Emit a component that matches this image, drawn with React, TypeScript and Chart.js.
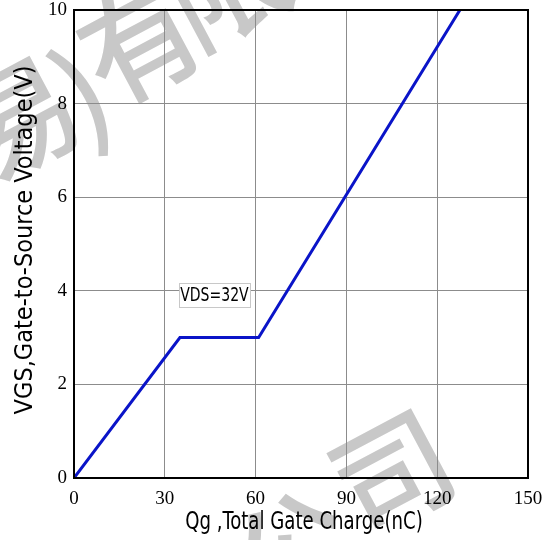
import React, { useEffect, useRef } from "react";
import { Chart, registerables } from "chart.js";

Chart.register(...registerables);

// Data
const chargeNC = [0, 35, 61, 127.5];
const gateVoltage = [0, 3, 3, 10];
const xTicks = [0, 30, 60, 90, 120, 150];
const yTicks = [0, 2, 4, 6, 8, 10];
const annotationText = "VDS=32V";
const annotationAt = [46.4, 3.9];
const xTitle = "Qg ,Total Gate Charge(nC)";
const yTitle = "VGS,Gate-to-Source Voltage(V)";
const watermarkChars = ["易", ")", "有", "限", "公", "司"];
const watermarkPos: [number, number][] = [
  [18, 118],
  [82, 92],
  [140, 42],
  [226, -14],
  [292, 550],
  [392, 472],
];

const SANS = '"DejaVu Sans Condensed", "DejaVu Sans", sans-serif';

const watermarkPlugin = {
  id: "watermark",
  beforeDraw(chart: any) {
    const ctx = chart.ctx;
    ctx.save();
    ctx.fillStyle = "#c8c8c8";
    ctx.font = '500 118px "Noto Sans CJK SC"';
    ctx.textAlign = "center";
    ctx.textBaseline = "middle";
    watermarkChars.forEach((ch, i) => {
      const [px, py] = watermarkPos[i];
      ctx.save();
      ctx.translate(px, py);
      ctx.rotate((-28 * Math.PI) / 180);
      ctx.fillText(ch, 0, 0);
      ctx.restore();
    });
    ctx.restore();
  },
};

function drawScaledText(ctx: any, text: string, x: number, y: number, sx: number, rot: number) {
  ctx.save();
  ctx.translate(x, y);
  ctx.rotate(rot);
  ctx.scale(sx, 1);
  ctx.fillText(text, 0, 0);
  ctx.restore();
}

const framePlugin = {
  id: "frame",
  afterDatasetsDraw(chart: any) {
    const ctx = chart.ctx;
    const { left, top, right, bottom } = chart.chartArea;
    const xs = chart.scales.x;
    const ys = chart.scales.y;
    // annotation
    const cx = xs.getPixelForValue(annotationAt[0]);
    const cy = ys.getPixelForValue(annotationAt[1]);
    ctx.save();
    ctx.font = "19px " + SANS;
    const w = ctx.measureText(annotationText).width * 0.82;
    ctx.fillStyle = "#ffffff";
    ctx.strokeStyle = "#c8c8c8";
    ctx.lineWidth = 1;
    const bw = Math.round(w + 3);
    const bh = 24;
    const bx = Math.round(cx - bw / 2) + 0.5;
    const by = Math.round(cy - bh / 2) + 0.5;
    ctx.fillRect(bx, by, bw, bh);
    ctx.strokeRect(bx, by, bw, bh);
    ctx.fillStyle = "#000";
    ctx.textAlign = "center";
    ctx.textBaseline = "middle";
    drawScaledText(ctx, annotationText, cx, cy + 1, 0.82, 0);
    ctx.restore();
    // frame
    ctx.save();
    ctx.strokeStyle = "#000";
    ctx.lineWidth = 2;
    ctx.strokeRect(left, top, right - left, bottom - top);
    ctx.restore();
    // axis titles
    ctx.save();
    ctx.fillStyle = "#000";
    ctx.textAlign = "center";
    ctx.textBaseline = "middle";
    ctx.font = "24px " + SANS;
    drawScaledText(ctx, xTitle, (left + right) / 2 + 3, bottom + 45, 0.84, 0);
    ctx.font = "25px " + SANS;
    drawScaledText(ctx, yTitle, 25, (top + bottom) / 2 - 4, 1, -Math.PI / 2);
    ctx.restore();
  },
};

export default function App() {
  const ref = useRef<HTMLCanvasElement | null>(null);
  useEffect(() => {
    if (!ref.current) return;
    const chart = new Chart(ref.current, {
      type: "scatter",
      data: {
        datasets: [
          {
            data: chargeNC.map((x, i) => ({ x, y: gateVoltage[i] })),
            showLine: true,
            borderColor: "#0a14c8",
            borderWidth: 3,
            pointRadius: 0,
            fill: false,
            tension: 0,
          },
        ],
      },
      options: {
        animation: false,
        responsive: false,
        maintainAspectRatio: false,
        layout: { padding: { top: 10, right: 23, left: 0, bottom: 0 } },
        plugins: { legend: { display: false }, tooltip: { enabled: false } },
        scales: {
          x: {
            type: "linear",
            min: 0,
            max: 150,
            afterBuildTicks: (s: any) => {
              s.ticks = xTicks.map((v) => ({ value: v }));
            },
            afterFit: (s: any) => {
              s.height = 62;
              s.paddingLeft = 0;
              s.paddingRight = 0;
            },
            grid: { color: "#8c8c8c", lineWidth: 1, drawTicks: false },
            border: { display: false },
            ticks: {
              padding: 10,
              color: "#000",
              font: { family: '"Liberation Serif", serif', size: 19 },
              maxRotation: 0,
            },
          },
          y: {
            type: "linear",
            min: 0,
            max: 10,
            afterBuildTicks: (s: any) => {
              s.ticks = yTicks.map((v) => ({ value: v }));
            },
            afterFit: (s: any) => {
              s.width = 74;
              s.paddingTop = 0;
              s.paddingBottom = 0;
            },
            grid: { color: "#8c8c8c", lineWidth: 1, drawTicks: false },
            border: { display: false },
            ticks: {
              padding: 7,
              color: "#000",
              font: { family: '"Liberation Serif", serif', size: 19 },
            },
          },
        },
      },
      plugins: [watermarkPlugin, framePlugin],
    });
    return () => chart.destroy();
  }, []);
  return (
    <div style={{ position: "fixed", left: 0, top: 0, width: 551, height: 540, background: "#fff" }}>
      <canvas ref={ref} width={551} height={540} style={{ width: 551, height: 540 }} />
    </div>
  );
}
